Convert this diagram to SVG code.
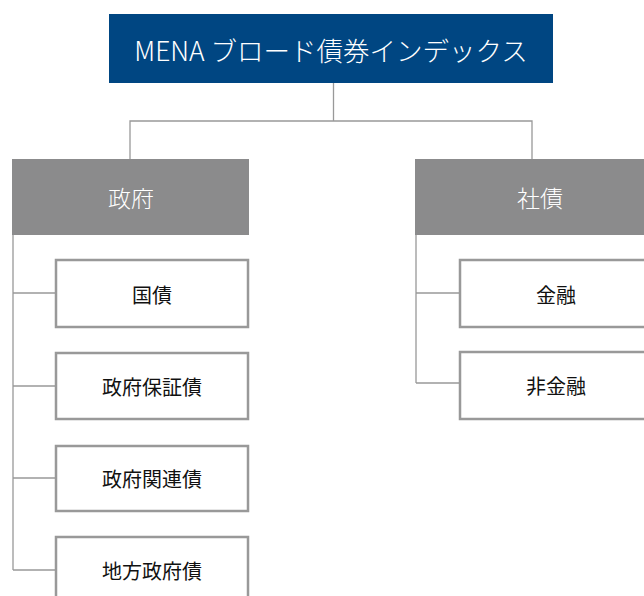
<svg xmlns="http://www.w3.org/2000/svg" width="644" height="596" viewBox="0 0 644 596">
<style>
text{font-family:"Noto Sans CJK JP","Noto Sans",sans-serif;text-anchor:middle;dominant-baseline:central;font-weight:300}
.title{fill:#fff;font-size:26.5px}
.cat rect{fill:#8b8b8c}
.cat text{fill:#fff;font-size:23px}
.leaf rect{fill:#fff;stroke:#999;stroke-width:2.5}
.leaf text{fill:#111;font-size:20px;font-weight:400}
#connectors path{fill:none;stroke:#999;stroke-width:1.3}
</style>
<rect width="644" height="596" fill="#fff"/>
<g id="connectors">
<path d="M333.5 83V121M130 159V121H532V159"/>
<path d="M13 235V570M13 293H55M13 386H55M13 478H55M13 570H55"/>
<path d="M416 235V383M416 293H459M416 383H459"/>
</g>
<g id="root"><rect x="109" y="14" width="444" height="69" fill="#004682"/><text class="title" x="331" y="49">MENA ブロード債券インデックス</text></g>
<g id="gov" class="cat"><rect x="12" y="159" width="237" height="76"/><text x="131" y="197">政府</text></g>
<g id="corp" class="cat"><rect x="415" y="159" width="250" height="76"/><text x="540" y="197">社債</text></g>
<g id="kokusai" class="leaf"><rect x="56" y="260" width="192" height="67"/><text x="152" y="294">国債</text></g>
<g id="hoshou" class="leaf"><rect x="56" y="353" width="192" height="66"/><text x="152" y="386">政府保証債</text></g>
<g id="kanren" class="leaf"><rect x="56" y="446" width="192" height="65"/><text x="152" y="478">政府関連債</text></g>
<g id="chihou" class="leaf"><rect x="56" y="537" width="192" height="66"/><text x="152" y="570">地方政府債</text></g>
<g id="kinyu" class="leaf"><rect x="460" y="260" width="193" height="67"/><text x="556" y="294">金融</text></g>
<g id="hikinyu" class="leaf"><rect x="460" y="352" width="193" height="67"/><text x="556" y="385">非金融</text></g>
</svg>
